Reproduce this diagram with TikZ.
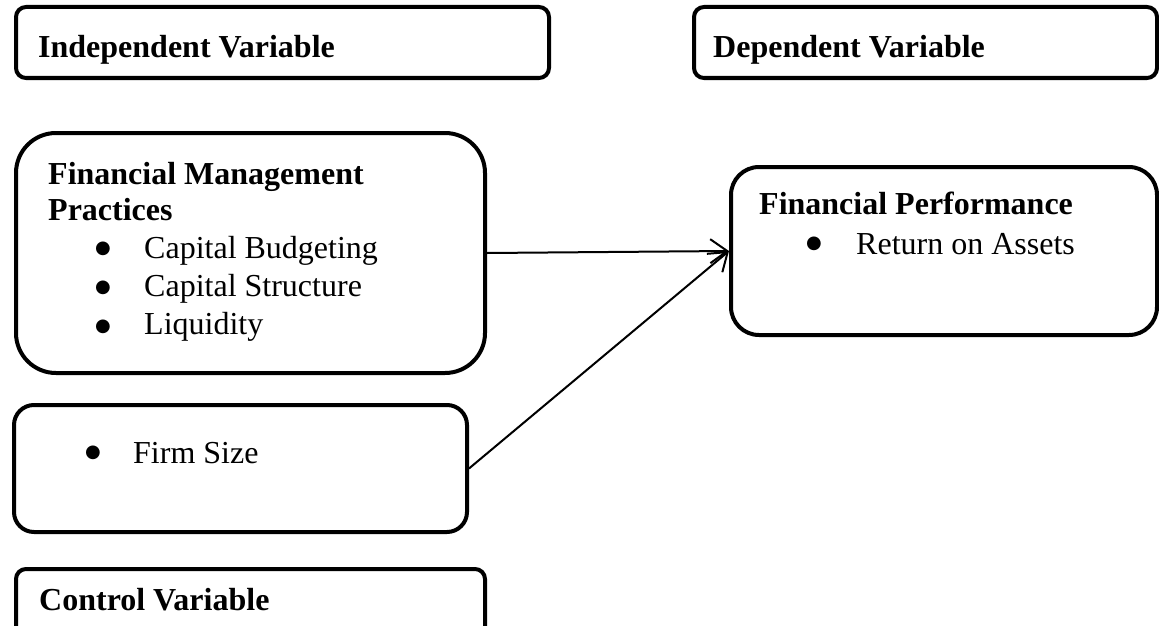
\documentclass[tikz,border=0pt]{standalone}
\usepackage{fontspec}
\setmainfont{Liberation Serif}
\newfontfamily\djv{DejaVu Sans}
\usetikzlibrary{arrows.meta}
\begin{document}
\begin{tikzpicture}[x=1pt,y=-1pt,
  box/.style={draw, line width=4pt, rectangle, inner sep=0pt, anchor=north west},
  hd/.style={anchor=base west, inner sep=0pt, font=\fontsize{32}{38}\selectfont\bfseries},
  tx/.style={anchor=base west, inner sep=0pt, font=\fontsize{32}{38}\selectfont},
  bul/.style={anchor=center, inner sep=0pt, font=\djv\fontsize{18}{18}\selectfont},
  link/.style={line width=2pt, -{Straight Barb[length=17pt,width=24pt,line width=2pt]}}]
\clip (0,0) rectangle (1159,626);
% boxes
\node[box, rounded corners=10pt, minimum width=533pt, minimum height=71pt] (indep) at (14,5) {};
\node[box, rounded corners=10pt, minimum width=463pt, minimum height=71pt] (dep) at (692,5) {};
\node[box, rounded corners=40pt, minimum width=469pt, minimum height=240pt] (fmp) at (14,131) {};
\node[box, rounded corners=28pt, minimum width=426pt, minimum height=168pt] (fp) at (729,165) {};
\node[box, rounded corners=20pt, minimum width=453pt, minimum height=127pt] (firm) at (12,403) {};
\node[box, rounded corners=10pt, minimum width=469pt, minimum height=70pt] (ctrl) at (14,567) {};
% texts
\node[hd] (tindep) at (38,58) {Independent Variable};
\node[hd] (tdep) at (713,58) {Dependent Variable};
\node[hd] (tfmp1) at (48,184) {Financial Management};
\node[hd] (tfmp2) at (48,220) {Practices};
\node[bul] (b1) at (103,249) {●};
\node[tx] (t1) at (144,258) {Capital Budgeting};
\node[bul] (b2) at (103,288) {●};
\node[tx] (t2) at (144,296) {Capital Structure};
\node[bul] (b3) at (103,327) {●};
\node[tx] (t3) at (144,334) {Liquidity};
\node[hd] (tfp) at (759,214) {Financial Performance};
\node[bul] (b4) at (814,244) {●};
\node[tx] (t4) at (856,254) {Return on Assets};
\node[bul] (b5) at (93,453) {●};
\node[tx] (t5) at (133,463) {Firm Size};
\node[hd] (tctrl) at (39,610) {Control Variable};
% connectors
\draw[link] (fmp.east) -- (fp.west);
\draw[link] (firm.east) -- (fp.west);
\end{tikzpicture}
\end{document}
